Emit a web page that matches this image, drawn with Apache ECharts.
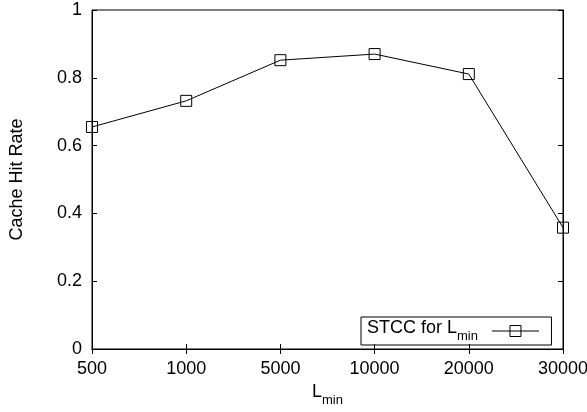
<!DOCTYPE html>
<html>
<head>
<meta charset="utf-8">
<script src="https://cdn.jsdelivr.net/npm/echarts@6/dist/echarts.min.js"></script>
<style>
  html, body { margin: 0; padding: 0; background: #fff; }
  #chart { width: 587px; height: 412px; }
</style>
</head>
<body>
<div id="chart"></div>
<script>
const categories = ['500', '1000', '5000', '10000', '20000', '30000'];
const hitRate = [0.655, 0.732, 0.852, 0.870, 0.811, 0.358];
const yTicks = [0, 0.2, 0.4, 0.6, 0.8, 1];

const font = 'Liberation Sans, Arial, Helvetica, sans-serif';
const chart = echarts.init(document.getElementById('chart'), null, { renderer: 'canvas' });

const tickStyle = { show: true, inside: true, length: 5, lineStyle: { color: '#000', width: 1 } };
const subRich = {
    a: { fontSize: 18, fontFamily: font, color: '#000', verticalAlign: 'top', lineHeight: 20 },
    b: { fontSize: 13, fontFamily: font, color: '#000', verticalAlign: 'bottom', padding: [11, 0, 0, 0] }
};

chart.setOption({
    animation: false,
    grid: {
        left: 92, right: 24, top: 10, bottom: 63,
        containLabel: false, outerBoundsMode: 'none',
        show: true, borderColor: '#000', borderWidth: 1
    },
    xAxis: [
        {
            type: 'category',
            data: categories,
            boundaryGap: false,
            axisLine: { show: true, lineStyle: { color: '#000', width: 1 } },
            axisTick: Object.assign({ alignWithLabel: true }, tickStyle),
            axisLabel: { color: '#000', fontFamily: font, fontSize: 18, margin: 11, showMinLabel: true, showMaxLabel: true },
            splitLine: { show: false },
            name: '{a|L}{b|min}',
            nameLocation: 'middle',
            nameGap: 34,
            nameTextStyle: { color: '#000', fontFamily: font, rich: subRich }
        },
        {
            type: 'category',
            data: categories,
            boundaryGap: false,
            position: 'top',
            axisLine: { show: true, lineStyle: { color: '#000' } },
            axisTick: tickStyle,
            axisLabel: { show: false }
        }
    ],
    yAxis: [
        {
            type: 'value',
            min: 0,
            max: 1,
            interval: 0.2,
            axisLine: { show: true, lineStyle: { color: '#000', width: 1 } },
            axisTick: tickStyle,
            splitLine: { show: false },
            axisLabel: {
                color: '#000', fontFamily: font, fontSize: 18, margin: 10,
                formatter: v => {
                    const t = yTicks.find(y => Math.abs(y - v) < 1e-9);
                    return t === undefined ? '' : String(t);
                }
            },
            name: 'Cache Hit Rate',
            nameLocation: 'middle',
            nameGap: 66,
            nameTextStyle: { color: '#000', fontFamily: font, fontSize: 18 }
        },
        {
            type: 'value',
            min: 0,
            max: 1,
            interval: 0.2,
            position: 'right',
            axisLine: { show: true, lineStyle: { color: '#000' } },
            axisTick: tickStyle,
            axisLabel: { show: false },
            splitLine: { show: false }
        }
    ],
    legend: {
        left: 361,
        top: 317,
        orient: 'horizontal',
        align: 'right',
        borderColor: '#000',
        borderWidth: 1,
        borderRadius: 0,
        padding: [2, 12, 2, 6],
        itemWidth: 47,
        itemHeight: 12,
        itemGap: 0,
        textStyle: {
            color: '#000', fontFamily: font,
            rich: {
                a: subRich.a,
                b: { fontSize: 13, fontFamily: font, color: '#000', verticalAlign: 'bottom', padding: [11, 9, 0, 0] }
            }
        },
        formatter: () => '{a|STCC for L}{b|min}',
        data: [{ name: 'STCC for Lmin', icon: 'path://M0,6 L47,6 M18,0.5 L29,0.5 L29,11.5 L18,11.5 Z', itemStyle: { color: 'transparent', borderColor: '#000', borderWidth: 1 } }]
    },
    series: [
        {
            name: 'STCC for Lmin',
            type: 'line',
            data: hitRate,
            symbol: 'rect',
            symbolSize: 11,
            showAllSymbol: true,
            lineStyle: { color: '#000', width: 1 },
            itemStyle: { color: 'transparent', borderColor: '#000', borderWidth: 1 },
            z: 3
        }
    ]
});
</script>
</body>
</html>
